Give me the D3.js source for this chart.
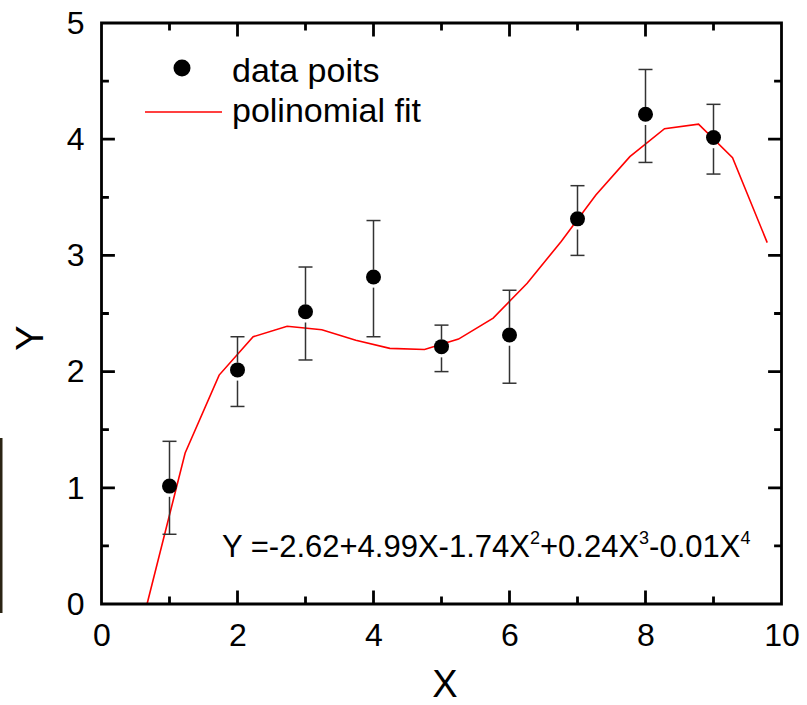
<!DOCTYPE html>
<html>
<head>
<meta charset="utf-8">
<script src="https://cdn.jsdelivr.net/npm/d3@7"></script>
<style>
  body { margin: 0; background: #fff; }
  text { font-family: Arial, "Liberation Sans", sans-serif; }
</style>
</head>
<body>
<svg width="807" height="705"></svg>
<script>
// measured points with error bars
var pointX = [1, 2, 3, 4, 5, 6, 7, 8, 9];
var pointY = [1.0, 2.0, 2.5, 2.8, 2.2, 2.3, 3.3, 4.2, 4.0];
var pointErr = [0.4, 0.3, 0.4, 0.5, 0.2, 0.4, 0.3, 0.4, 0.3];

// fitted curve (starts where it leaves the bottom axis)
var fitX = [0.67, 1.23, 1.73, 2.23, 2.73, 3.24, 3.74, 4.24, 4.75, 5.25, 5.76, 6.26, 6.76, 7.27, 7.77, 8.28, 8.78, 9.28, 9.79];
var fitY = [0, 1.30, 1.97, 2.30, 2.39, 2.36, 2.27, 2.20, 2.19, 2.28, 2.46, 2.76, 3.12, 3.52, 3.85, 4.09, 4.13, 3.84, 3.11];

var xMajor = [0, 2, 4, 6, 8, 10];
var xMinor = [1, 3, 5, 7, 9];
var yMajor = [0, 1, 2, 3, 4, 5];
var yMinor = [0.5, 1.5, 2.5, 3.5, 4.5];

var svg = d3.select('svg');

var x = d3.scaleLinear().domain([0, 10]).range([101.5, 781.5]);
var y = d3.scaleLinear().domain([0, 5]).range([604, 23]);

// stray dark bar on the left edge of the original
svg.append('rect')
  .attr('x', 0).attr('y', 438).attr('width', 2.5).attr('height', 175)
  .attr('fill', '#2b2414');

// tick labels from d3 axes
var styleAxis = function(g){
  g.select('.domain').remove();
  g.selectAll('.tick line').remove();
  g.selectAll('.tick text').attr('font-size', 32).attr('fill', '#000');
};

svg.append('g')
  .attr('transform', 'translate(0,' + y(0) + ')')
  .call(d3.axisBottom(x).tickValues(xMajor).tickSize(0).tickPadding(19))
  .call(styleAxis);
svg.append('g')
  .attr('transform', 'translate(' + x(0) + ',0)')
  .call(d3.axisLeft(y).tickValues(yMajor).tickSize(0).tickPadding(17).tickFormat(d3.format('d')))
  .call(styleAxis);

// axis titles
svg.append('text')
  .attr('x', 445).attr('y', 697)
  .attr('text-anchor', 'middle').attr('font-size', 38)
  .text('X');
svg.append('text')
  .attr('transform', 'translate(43,338) rotate(-90)')
  .attr('text-anchor', 'middle').attr('font-size', 38)
  .text('Y');

// fit line
var line = d3.line()
  .x(function(d){ return x(d[0]); })
  .y(function(d){ return y(d[1]); });

svg.append('path')
  .datum(d3.zip(fitX, fitY))
  .attr('d', line)
  .attr('fill', 'none')
  .attr('stroke', '#ff0000')
  .attr('stroke-width', 1.6);

// error bars, with a small gap around the marker
var pts = pointX.map(function(px, i){
  return { x: px, y: pointY[i], e: pointErr[i] };
});
var gap = 9;
var cap = 7;

var bars = svg.append('g')
  .attr('stroke', '#333')
  .attr('stroke-width', 1.5);

pts.forEach(function(p){
  var cx = x(p.x), cy = y(p.y);
  var top = y(p.y + p.e), bot = y(p.y - p.e);
  bars.append('line').attr('x1', cx).attr('x2', cx).attr('y1', top).attr('y2', cy - gap);
  bars.append('line').attr('x1', cx).attr('x2', cx).attr('y1', cy + gap).attr('y2', bot);
  bars.append('line').attr('x1', cx - cap).attr('x2', cx + cap).attr('y1', top).attr('y2', top);
  bars.append('line').attr('x1', cx - cap).attr('x2', cx + cap).attr('y1', bot).attr('y2', bot);
});

svg.selectAll('circle.pt')
  .data(pts)
  .enter()
  .append('circle')
    .attr('class', 'pt')
    .attr('cx', function(p){ return x(p.x); })
    .attr('cy', function(p){ return y(p.y) - 1.7; })
    .attr('r', 7.5)
    .attr('fill', '#000');

// legend
svg.append('circle')
  .attr('cx', 182).attr('cy', 68).attr('r', 8.5).attr('fill', '#000');
svg.append('text')
  .attr('x', 232).attr('y', 82).attr('font-size', 34)
  .text('data poits');
svg.append('line')
  .attr('x1', 145).attr('x2', 222).attr('y1', 112).attr('y2', 112)
  .attr('stroke', '#ff0000').attr('stroke-width', 1.6);
svg.append('text')
  .attr('x', 232).attr('y', 122).attr('font-size', 34)
  .text('polinomial fit');

// equation
var eq = svg.append('text')
  .attr('x', 222).attr('y', 557).attr('font-size', 31);
eq.append('tspan').text('Y =-2.62+4.99X-1.74X');
eq.append('tspan').attr('dy', -13).attr('font-size', 18).text('2');
eq.append('tspan').attr('dy', 13).text('+0.24X');
eq.append('tspan').attr('dy', -13).attr('font-size', 18).text('3');
eq.append('tspan').attr('dy', 13).text('-0.01X');
eq.append('tspan').attr('dy', -13).attr('font-size', 18).text('4');

// frame and inward ticks on all four sides, as one path drawn last
var x0 = x(0), x1 = x(10), y0 = y(0), y1 = y(5);
var d = 'M' + x0 + ',' + y1 + 'L' + x1 + ',' + y1 + 'L' + x1 + ',' + y0 + 'L' + x0 + ',' + y0 + 'Z';
xMajor.forEach(function(v){
  d += 'M' + x(v) + ',' + y0 + 'v-12M' + x(v) + ',' + y1 + 'v12';
});
xMinor.forEach(function(v){
  d += 'M' + x(v) + ',' + y0 + 'v-6M' + x(v) + ',' + y1 + 'v6';
});
yMajor.forEach(function(v){
  d += 'M' + x0 + ',' + y(v) + 'h12M' + x1 + ',' + y(v) + 'h-12';
});
yMinor.forEach(function(v){
  d += 'M' + x0 + ',' + y(v) + 'h6M' + x1 + ',' + y(v) + 'h-6';
});
svg.append('path')
  .attr('d', d)
  .attr('fill', 'none')
  .attr('stroke', '#000')
  .attr('stroke-width', 2.8)
  .attr('stroke-linecap', 'square');
</script>
</body>
</html>
